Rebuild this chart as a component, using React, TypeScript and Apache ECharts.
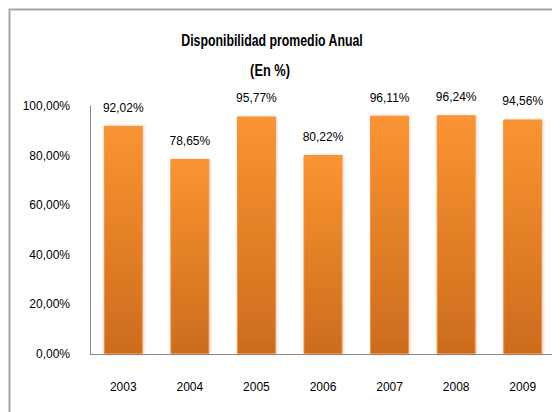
import React, { useEffect, useRef } from "react";
import * as echarts from "echarts";

const categories = ["2003", "2004", "2005", "2006", "2007", "2008", "2009"];
const values = [92.02, 78.65, 95.77, 80.22, 96.11, 96.24, 94.56];
const yTicks = [0, 20, 40, 60, 80, 100];
const titleText = "Disponibilidad promedio Anual";
const subtitleText = "(En %)";

const fmt = (v: number) => v.toFixed(2).replace(".", ",") + "%";

export default function App() {
  const ref = useRef<HTMLDivElement>(null);
  useEffect(() => {
    if (!ref.current) return;
    const chart = echarts.init(ref.current, null, { renderer: "svg" });
    const titleFont = "bold 16px 'Liberation Sans', Arial, sans-serif";
    chart.setOption({
      animation: false,
      backgroundColor: "#ffffff",
      graphic: [
        {
          type: "rect",
          shape: { x: 1.5, y: 1.5, width: 700, height: 700 },
          style: { fill: "none", stroke: "#a6a6a6", lineWidth: 2 },
          silent: true,
        },
        {
          type: "text",
          x: 264,
          y: 32,
          scaleX: 0.77,
          style: {
            text: titleText,
            font: titleFont,
            fill: "#000",
            textAlign: "center",
            textVerticalAlign: "middle",
          },
        },
        {
          type: "text",
          x: 262,
          y: 62,
          scaleX: 0.8,
          style: {
            text: subtitleText,
            font: titleFont,
            fill: "#000",
            textAlign: "center",
            textVerticalAlign: "middle",
          },
        },
      ],
      grid: { left: 82, top: 98, right: 4, height: 248 },
      xAxis: {
        type: "category",
        data: categories,
        axisLine: { lineStyle: { color: "#8c8c8c", width: 1 } },
        axisTick: { show: false },
        axisLabel: {
          margin: 27,
          fontSize: 12,
          color: "#000",
          fontFamily: "'Liberation Sans', Arial, sans-serif",
        },
      },
      yAxis: {
        type: "value",
        min: yTicks[0],
        max: yTicks[yTicks.length - 1],
        interval: 20,
        axisLine: { show: true, lineStyle: { color: "#8c8c8c", width: 1 } },
        axisTick: { show: false },
        splitLine: { show: false },
        axisLabel: {
          margin: 20,
          fontSize: 12,
          color: "#000",
          fontFamily: "'Liberation Sans', Arial, sans-serif",
          formatter: (v: number) => fmt(v),
        },
      },
      series: [
        {
          type: "bar",
          data: values,
          barWidth: 39,
          itemStyle: {
            color: new echarts.graphic.LinearGradient(0, 0, 0, 1, [
              { offset: 0, color: "#FB9431" },
              { offset: 1, color: "#CC6C1E" },
            ]),
            borderColor: "#F7923A",
            borderWidth: 1,
            shadowColor: "rgba(0,0,0,0.18)",
            shadowBlur: 3,
            shadowOffsetX: 1,
          },
          label: {
            show: true,
            position: "top",
            distance: 12,
            fontSize: 12,
            color: "#000",
            fontFamily: "'Liberation Sans', Arial, sans-serif",
            formatter: (p: any) => fmt(p.value),
          },
        },
      ],
    });
    return () => chart.dispose();
  }, []);
  return <div ref={ref} style={{ width: 552, height: 404 }} />;
}
